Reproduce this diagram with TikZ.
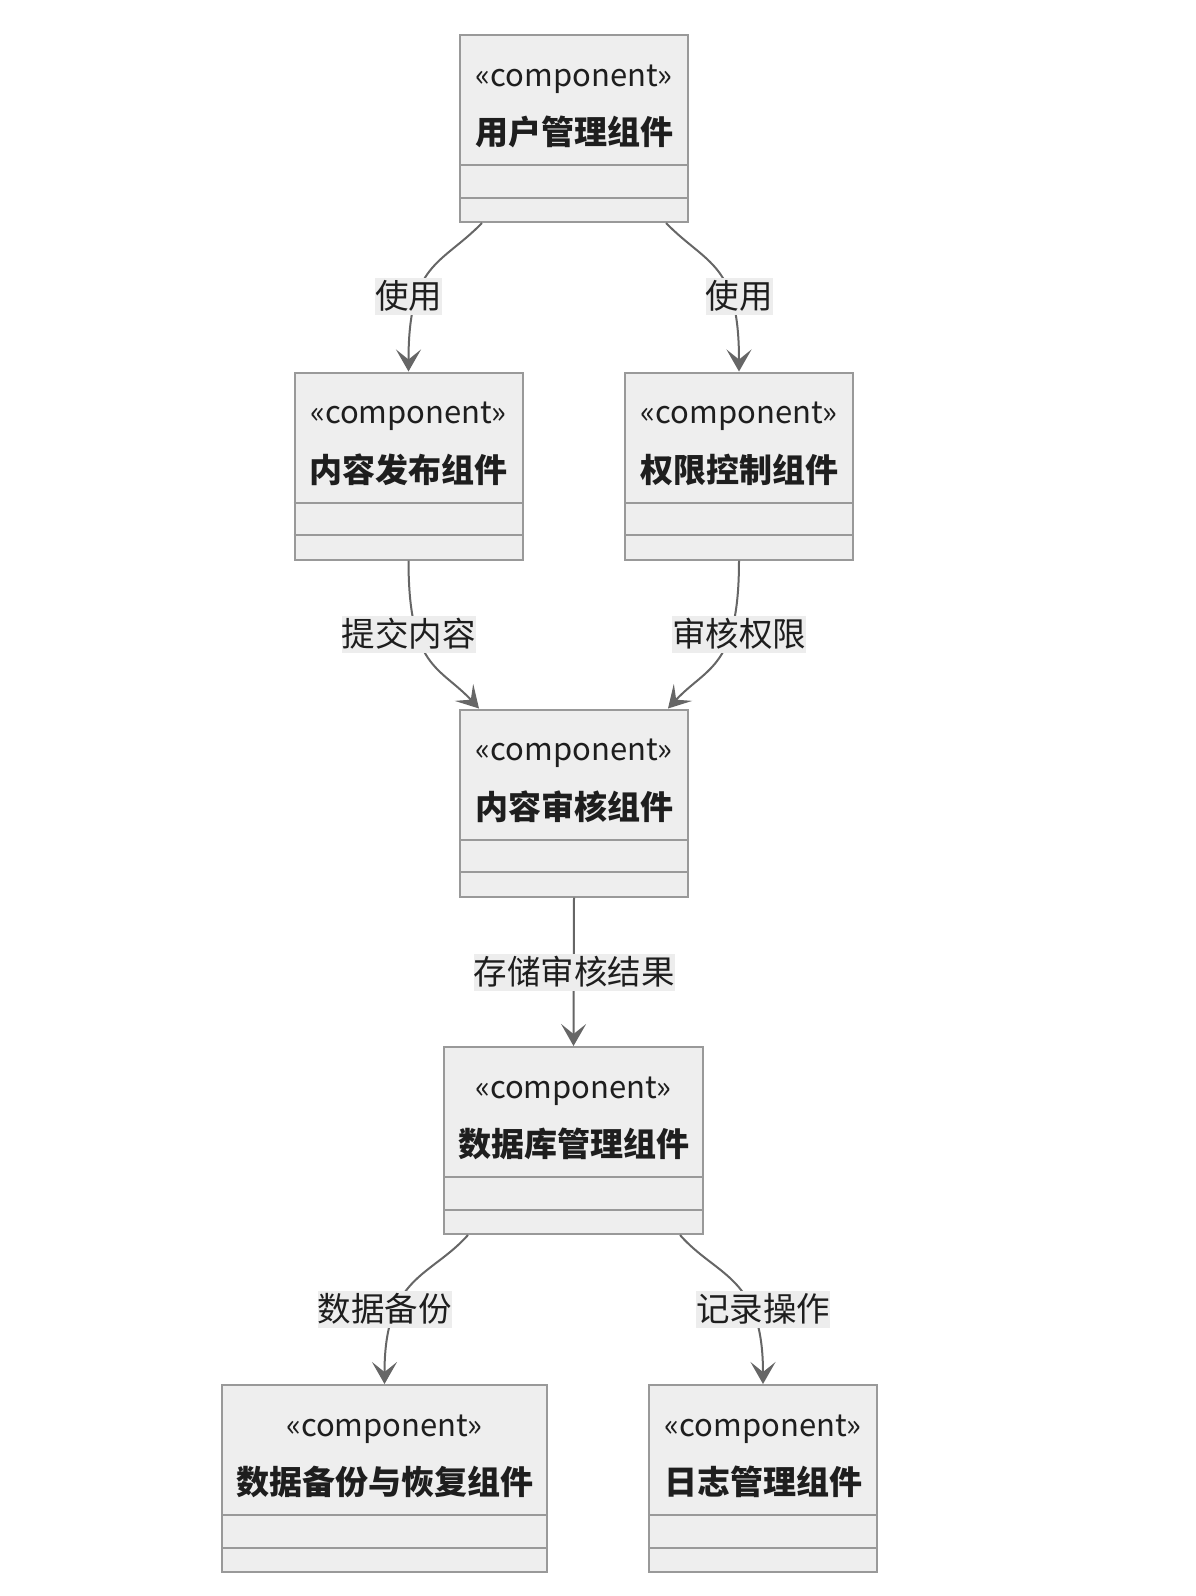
\documentclass[tikz,border=0pt]{standalone}
\usepackage{fontspec}
\setmainfont{Noto Sans CJK SC}
\usetikzlibrary{arrows.meta,calc}
\definecolor{boxfill}{HTML}{EEEEEE}
\definecolor{boxdraw}{HTML}{999999}
\definecolor{edgecol}{HTML}{666666}
\definecolor{lblfill}{HTML}{EDEDED}
\definecolor{txt}{HTML}{1E1E1E}
\newcommand\compbox[5]{%
  \node[box, minimum width=#4] (#1) at (#2,#3) {};
  \draw[sep] ($(#1.north west)+(0,131)$) -- ($(#1.north east)+(0,131)$);
  \draw[sep] ($(#1.north west)+(0,163.5)$) -- ($(#1.north east)+(0,163.5)$);
  \node[stereo] (#1-st) at ($(#1.north)+(0,45)$) {«component»};
  \node[ttl] (#1-t) at ($(#1.north)+(0,98)$) {#5};
}
\begin{document}
\begin{tikzpicture}[x=1pt,y=-1pt,
  box/.style={draw=boxdraw, fill=boxfill, line width=2pt, minimum height=187pt, inner sep=0pt, anchor=north west},
  sep/.style={draw=boxdraw, line width=2pt},
  stereo/.style={font=\fontsize{31}{36}\selectfont, text=txt, inner sep=0pt},
  ttl/.style={font=\fontsize{33}{38}\selectfont\bfseries, text=txt, inner sep=0pt},
  edge/.style={draw=edgecol, line width=2pt, -{Stealth[length=22pt,width=25pt,inset=10pt]}},
  lbl/.style={fill=lblfill, font=\fontsize{33.5}{38}\selectfont, text=txt, inner xsep=0pt, inner ysep=0pt, minimum height=37pt}
]
\useasboundingbox (0,0) rectangle (1196,1596);

\compbox{user}{459}{34}{228}{用户管理组件}
\compbox{pub}{293.5}{371.5}{228}{内容发布组件}
\compbox{perm}{624}{371.5}{228}{权限控制组件}
\compbox{review}{459}{708.5}{228}{内容审核组件}
\compbox{db}{443}{1046}{259}{数据库管理组件}
\compbox{backup}{221}{1384}{325}{数据备份与恢复组件}
\compbox{log}{648}{1384}{228}{日志管理组件}

\draw[edge] ($(user.south)+(-92,0)$) .. controls +(-41,42) and +(0,-109) .. (pub.north);
\draw[edge] ($(user.south)+(92,0)$) .. controls +(41,42) and +(0,-109) .. (perm.north);
\draw[edge] (pub.south) .. controls +(0,108) and +(-39,-42) .. ($(review.north)+(-95,0)$);
\draw[edge] (perm.south) .. controls +(0,108) and +(39,-42) .. ($(review.north)+(94,0)$);
\draw[edge] (review.south) -- (db.north);
\draw[edge] ($(db.south)+(-105.5,0)$) .. controls +(-37.5,42) and +(0,-108) .. (backup.north);
\draw[edge] ($(db.south)+(106.5,0)$) .. controls +(37,42) and +(0,-108) .. (log.north);

\node[lbl] (l1) at ($(pub.north)+(0,-75.5)$) {使用};
\node[lbl] (l2) at ($(perm.north)+(0,-75.5)$) {使用};
\node[lbl] (l3) at ($(pub.south)+(0,73.5)$) {提交内容};
\node[lbl] (l4) at ($(perm.south)+(0,73.5)$) {审核权限};
\node[lbl] (l5) at ($(review.south)+(0,74.5)$) {存储审核结果};
\node[lbl] (l6) at ($(backup.north)+(0,-75)$) {数据备份};
\node[lbl] (l7) at ($(log.north)+(0,-75)$) {记录操作};
\end{tikzpicture}
\end{document}
